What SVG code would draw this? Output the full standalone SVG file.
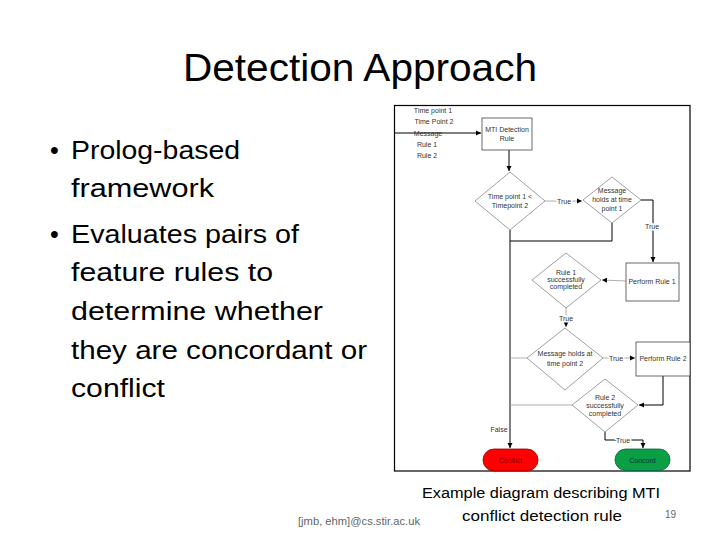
<svg xmlns="http://www.w3.org/2000/svg" width="720" height="540" viewBox="0 0 720 540">
<style>
.title{font-family:"Liberation Sans",Arial,sans-serif;font-size:38px;fill:#000}
.bul{font-family:"Liberation Sans",Arial,sans-serif;font-size:25px;fill:#000}
.cap{font-family:"Liberation Sans",Arial,sans-serif;font-size:15.5px;fill:#000}
.foot{font-family:"Liberation Sans",Arial,sans-serif;font-size:10px;fill:#666}
.t{font-family:"Liberation Sans",Arial,sans-serif;font-size:7px;fill:#333;text-anchor:middle}
.tl{font-family:"Liberation Sans",Arial,sans-serif;font-size:7px;fill:#333;stroke:#fff;stroke-width:3px;paint-order:stroke;text-anchor:middle}
.box{fill:#fff;stroke:#444;stroke-width:0.8}
.dia{fill:#fff;stroke:#777;stroke-width:0.7}
.ln{fill:none;stroke:#000;stroke-width:1}
.lg{fill:none;stroke:#999;stroke-width:0.8}
</style>
<defs>
<marker id="ah" markerWidth="6" markerHeight="6" refX="5" refY="3" orient="auto" markerUnits="userSpaceOnUse">
<path d="M0,0.5 L5,3 L0,5.5 Z" fill="#000"/>
</marker>
</defs>
<rect width="720" height="540" fill="#fff"/>
<text class="title" x="360" y="81" text-anchor="middle" textLength="354" lengthAdjust="spacingAndGlyphs">Detection Approach</text>
<g id="bullets">
<text class="bul" x="50" y="159">•</text>
<text class="bul" x="71" y="159" textLength="169" lengthAdjust="spacingAndGlyphs">Prolog-based</text>
<text class="bul" x="71" y="197" textLength="143" lengthAdjust="spacingAndGlyphs">framework</text>
<text class="bul" x="50" y="243">•</text>
<text class="bul" x="71" y="243" textLength="228" lengthAdjust="spacingAndGlyphs">Evaluates pairs of</text>
<text class="bul" x="71" y="281" textLength="202" lengthAdjust="spacingAndGlyphs">feature rules to</text>
<text class="bul" x="71" y="320" textLength="252" lengthAdjust="spacingAndGlyphs">determine whether</text>
<text class="bul" x="71" y="359" textLength="296" lengthAdjust="spacingAndGlyphs">they are concordant or</text>
<text class="bul" x="71" y="397" textLength="94" lengthAdjust="spacingAndGlyphs">conflict</text>
</g>
<rect id="frame" x="394.5" y="105.5" width="295.5" height="365.5" fill="none" stroke="#000" stroke-width="1.2"/>
<g id="connectors">
<line class="ln" x1="395" y1="133" x2="481" y2="133" marker-end="url(#ah)"/>
<line class="ln" x1="509" y1="150" x2="509" y2="171" marker-end="url(#ah)"/>
<line class="lg" x1="545" y1="201" x2="582" y2="201" marker-end="url(#ah)"/>
<polyline class="ln" points="641,200 653,200 653,262" marker-end="url(#ah)"/>
<polyline class="ln" points="612,223 612,241 510,241"/>
<line class="ln" x1="510" y1="230" x2="510" y2="448" marker-end="url(#ah)"/>
<line class="lg" x1="626" y1="281" x2="602" y2="280" marker-end="url(#ah)"/>
<line class="lg" x1="566" y1="308" x2="566" y2="327" marker-end="url(#ah)"/>
<line class="lg" x1="603" y1="358" x2="635" y2="358" marker-end="url(#ah)"/>
<polyline class="ln" points="663,376 663,405 639,405" marker-end="url(#ah)"/>
<line class="lg" x1="527" y1="358" x2="510" y2="358"/>
<line class="lg" x1="572" y1="405" x2="510" y2="405"/>
<polyline class="ln" points="605,432 605,440 643,440 643,448" marker-end="url(#ah)"/>
<text class="tl" x="564" y="203.5">True</text>
<text class="tl" x="652" y="228.5">True</text>
<text class="t" x="499" y="432">False</text>
<text class="tl" x="566" y="320.5">True</text>
<text class="tl" x="616" y="360.5">True</text>
<text class="tl" x="623" y="442.5">True</text>
</g>
<g id="inputs">
<text class="t" x="433" y="112.5">Time point 1</text>
<text class="t" x="434" y="123.5">Time Point 2</text>
<text class="t" x="428" y="135.5">Message</text>
<text class="t" x="427" y="146.5">Rule 1</text>
<text class="t" x="427" y="157.5">Rule 2</text>
</g>
<g id="mti">
<rect class="box" x="482" y="118" width="50" height="32"/>
<text class="t" x="507" y="132">MTI Detection</text>
<text class="t" x="507" y="141">Rule</text>
</g>
<g id="d1">
<polygon class="dia" points="510,172 545,201 510,230 475,201"/>
<text class="t" x="510" y="199">Time point 1 &lt;</text>
<text class="t" x="510" y="208">Timepoint 2</text>
</g>
<g id="d2">
<polygon class="dia" points="612,177 641,200 612,223 583,200"/>
<text class="t" x="612" y="193">Message</text>
<text class="t" x="612" y="202">holds at time</text>
<text class="t" x="612" y="211">point 1</text>
</g>
<g id="pr1">
<rect class="box" x="626" y="263" width="53" height="38"/>
<text class="t" x="652" y="284">Perform Rule 1</text>
</g>
<g id="d3">
<polygon class="dia" points="566,253 601,280 566,308 532,280"/>
<text class="t" x="566" y="275">Rule 1</text>
<text class="t" x="566" y="282">successfully</text>
<text class="t" x="566" y="289">completed</text>
</g>
<g id="d4">
<polygon class="dia" points="565,328 603,358 565,390 527,358"/>
<text class="t" x="565" y="356">Message holds at</text>
<text class="t" x="565" y="366">time point 2</text>
</g>
<g id="pr2">
<rect class="box" x="636" y="342" width="54" height="34"/>
<text class="t" x="663" y="361">Perform Rule 2</text>
</g>
<g id="d5">
<polygon class="dia" points="605,379 638,405 605,432 572,405"/>
<text class="t" x="605" y="400">Rule 2</text>
<text class="t" x="605" y="408">successfully</text>
<text class="t" x="605" y="416">completed</text>
</g>
<g id="conflict">
<rect x="483" y="449" width="55" height="22" rx="11" fill="#f00" stroke="#900" stroke-width="0.8"/>
<text class="t" x="510.5" y="462.5" style="fill:#800">Conflict</text>
</g>
<g id="concord">
<rect x="615" y="449" width="55" height="21.5" rx="10.75" fill="#0a9e45" stroke="#064" stroke-width="0.8"/>
<text class="t" x="642.5" y="462.5" style="fill:#033">Concord</text>
</g>
<g id="caption">
<text class="cap" x="541" y="498" text-anchor="middle" textLength="238" lengthAdjust="spacingAndGlyphs">Example diagram describing MTI</text>
<text class="cap" x="542" y="521" text-anchor="middle" textLength="160" lengthAdjust="spacingAndGlyphs">conflict detection rule</text>
<text class="foot" x="298" y="525" textLength="122" lengthAdjust="spacingAndGlyphs">[jmb, ehm]@cs.stir.ac.uk</text>
<text class="foot" x="665" y="518">19</text>
</g>
</svg>
